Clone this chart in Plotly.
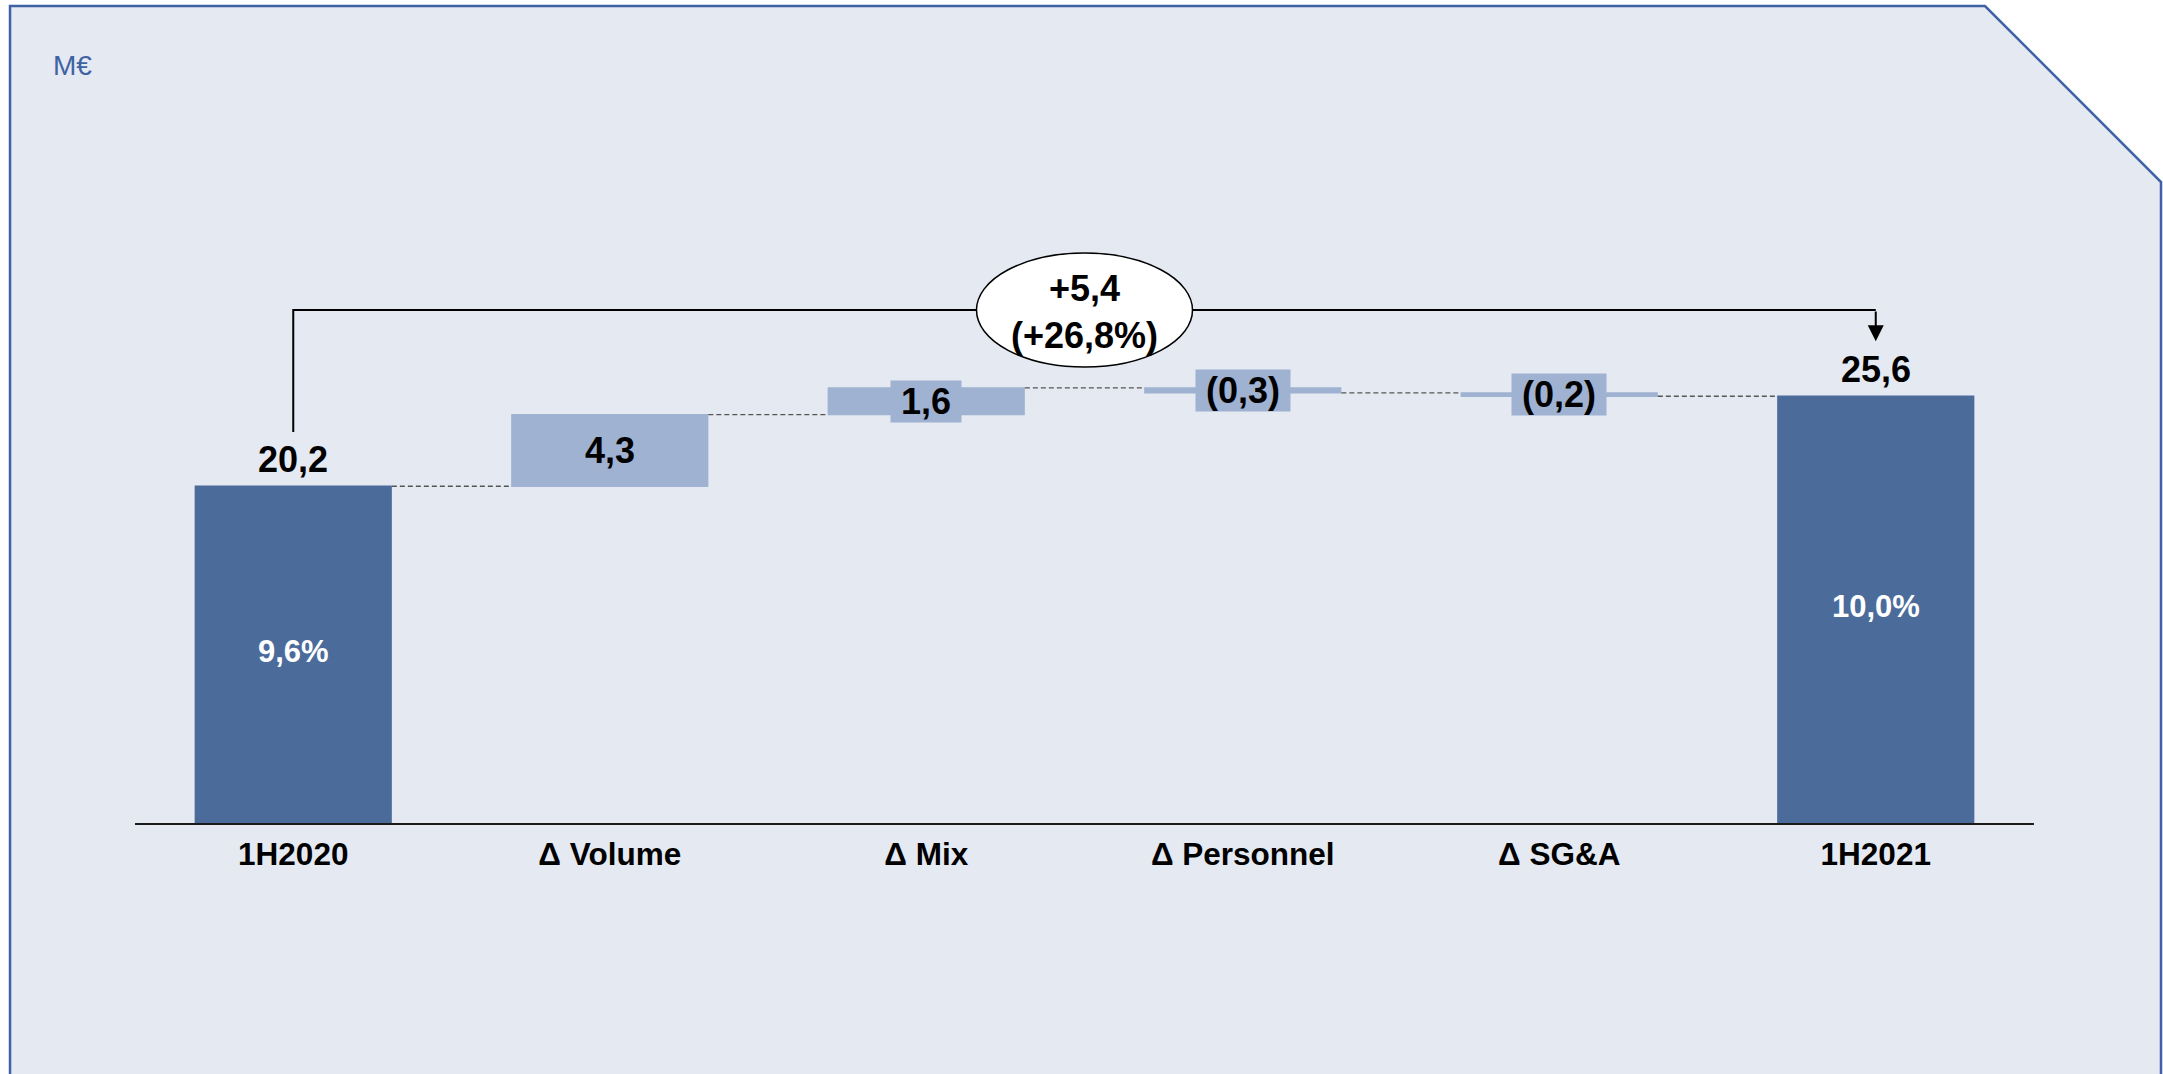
import plotly.graph_objects as go

# ---- data -------------------------------------------------------------
categories = ["1H2020", "Δ Volume", "Δ Mix", "Δ Personnel", "Δ SG&A", "1H2021"]
measures = ["absolute", "relative", "relative", "relative", "relative", "absolute"]
values = [20.2, 4.3, 1.6, -0.3, -0.2, 25.6]
margin_labels = {"1H2020": "9,6%", "1H2021": "10,0%"}
change_abs = 5.4
change_pct = 26.8
unit_label = "M€"

# ---- style ------------------------------------------------------------
W, H = 2163, 1074
M_L, M_R, M_T, M_B = 135, 129, 60, 251
PX_PER_UNIT = 16.67
PLOT_W = W - M_L - M_R
PLOT_H = H - M_T - M_B
Y_MAX = PLOT_H / PX_PER_UNIT

BG = "#e4e9f2"
DARK = "#4b6b9b"
LIGHT = "#9fb2d1"
FRAME = "#3e62a4"
FONT = "Liberation Sans, Arial, sans-serif"
VALUE_SIZE = 36


def fmt(v):
    s = f"{abs(v):.1f}".replace(".", ",")
    return f"({s})" if v < 0 else s


def px_x(px):
    return (px - M_L) / PLOT_W


def px_y(py):
    return (H - M_B - py) / PLOT_H


fig = go.Figure()

fig.add_trace(go.Waterfall(
    x=categories,
    y=values,
    measure=measures,
    width=0.623,
    increasing=dict(marker=dict(color=LIGHT, line=dict(width=0))),
    decreasing=dict(marker=dict(color=LIGHT, line=dict(width=0))),
    totals=dict(marker=dict(color=DARK, line=dict(width=0))),
    connector=dict(mode="between", line=dict(color="#555555", width=1.3, dash="5px,3px")),
    textinfo="none",
    hoverinfo="skip",
    showlegend=False,
))

annotations = []
shapes = []

# value labels
running = 0.0
for i, (cat, m, v) in enumerate(zip(categories, measures, values)):
    if m == "absolute":
        annotations.append(dict(
            x=cat, y=v, text=f"<b>{fmt(v)}</b>", showarrow=False,
            yanchor="bottom", yshift=4,
            font=dict(family=FONT, size=VALUE_SIZE, color="black"),
        ))
        if cat in margin_labels:
            annotations.append(dict(
                x=cat, y=v / 2, text=f"<b>{margin_labels[cat]}</b>", showarrow=False,
                yshift=3, font=dict(family=FONT, size=31, color="white"),
            ))
        running = v
    else:
        mid = running + v / 2
        annotations.append(dict(
            x=cat, y=mid, text=f"<b>&nbsp;{fmt(v)}&nbsp;</b>", showarrow=False,
            bgcolor=LIGHT, borderpad=0,
            font=dict(family=FONT, size=VALUE_SIZE, color="black"),
        ))
        running += v

# bracket showing the overall change
start_v, end_v = values[0], values[-1]
top_v = 30.77
gap_v = 3.3
fig.add_trace(go.Scatter(
    x=[categories[0], categories[0], categories[-1], categories[-1]],
    y=[start_v + gap_v - 0.05, top_v, top_v, top_v],
    mode="lines", line=dict(color="black", width=2),
    hoverinfo="skip", showlegend=False,
))
annotations.append(dict(
    x=categories[-1], y=end_v + gap_v, ax=0, ay=-(top_v - end_v - gap_v) * PX_PER_UNIT,
    axref="pixel", ayref="pixel", text="", showarrow=True,
    arrowhead=2, arrowsize=1.6, arrowwidth=2, arrowcolor="black",
))

mid_x = (len(categories) - 1) / 2
shapes.append(dict(
    type="circle", xref="x", yref="y",
    xsizemode="pixel", ysizemode="pixel",
    xanchor=mid_x, yanchor=top_v,
    x0=-108, x1=108, y0=-57, y1=57,
    fillcolor="white", line=dict(color="black", width=1.5), layer="above",
))
pct = f"{change_pct:.1f}".replace(".", ",")
annotations.append(dict(
    x=mid_x, y=top_v, text=f"<b>+{fmt(change_abs)}<br>(+{pct}%)</b>",
    showarrow=False, font=dict(family=FONT, size=VALUE_SIZE, color="black"),
    yshift=-2,
))

# unit label
annotations.append(dict(
    xref="paper", yref="paper", x=px_x(51), y=px_y(65),
    xanchor="left", yanchor="middle", text=unit_label, showarrow=False,
    font=dict(family=FONT, size=28, color=FRAME),
))

# slide frame with chamfered corner
pts = [(10, 6), (1985, 6), (2161, 182), (2161, 1100), (10, 1100)]
path = "M " + " L ".join(f"{px_x(a):.5f},{px_y(b):.5f}" for a, b in pts) + " Z"
shapes.insert(0, dict(
    type="path", xref="paper", yref="paper", path=path,
    fillcolor=BG, line=dict(color=FRAME, width=2.5), layer="below",
))

fig.update_layout(
    width=W, height=H,
    margin=dict(l=M_L, r=M_R, t=M_T, b=M_B, autoexpand=False),
    paper_bgcolor="white",
    plot_bgcolor="rgba(0,0,0,0)",
    shapes=shapes,
    annotations=annotations,
    showlegend=False,
    xaxis=dict(
        type="category", range=[-0.5, len(categories) - 0.5],
        showgrid=False, zeroline=False,
        showline=True, linecolor="#1a1a1a", linewidth=2,
        ticks="outside", ticklen=2, tickcolor="rgba(0,0,0,0)",
        tickfont=dict(family=FONT, size=31.5, color="black"),
        tickvals=categories, ticktext=[f"<b>{c}</b>" for c in categories],
        fixedrange=True,
    ),
    yaxis=dict(
        range=[0, Y_MAX], visible=False, showgrid=False, zeroline=False,
        fixedrange=True,
    ),
)

fig.write_html("out.html", config={"displayModeBar": False})
